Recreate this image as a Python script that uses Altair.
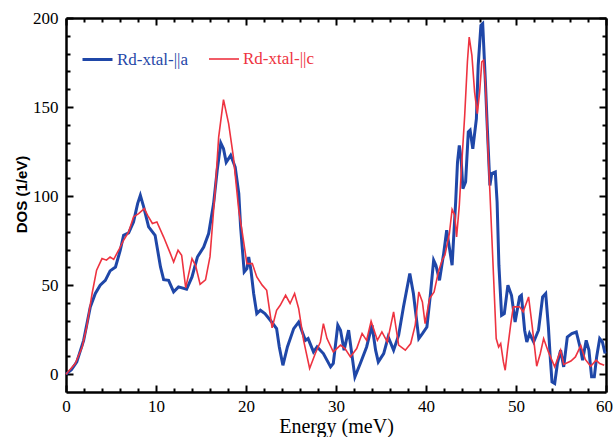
import altair as alt
import pandas as pd

# Phonon density of states, polarisation || a
energy_a = [0, 0.6, 1.2, 1.96, 2.7, 3.26, 3.8, 4.37, 4.9, 5.5, 6.03, 6.4, 6.96, 7.5, 7.96,
            8.26, 8.63, 9.18, 9.9, 10.5, 10.85, 11.4, 11.96, 12.5, 13.4, 14.0, 14.6, 15.3,
            15.85, 16.4, 16.8, 17.2, 17.5, 17.8, 18.3, 18.8, 19.2, 19.4, 19.8, 20.1, 20.3,
            20.55, 20.85, 21.2, 21.6, 22.1, 22.7, 23.4, 23.7, 24.1, 24.6, 25.3, 25.85, 26.6,
            26.9, 27.5, 27.9, 28.6, 29.4, 29.7, 30.2, 30.5, 30.9, 31.4, 31.8, 32.1, 32.7,
            33.4, 34.0, 34.4, 34.7, 35.3, 35.8, 36.4, 36.96, 37.5, 38.2, 38.6, 39.2, 39.6,
            40.1, 40.5, 40.85, 41.1, 41.5, 41.96, 42.3, 42.9, 43.3, 43.5, 43.7, 43.9, 44.1,
            44.4, 44.7, 44.9, 45.2, 45.6, 45.8, 46.1, 46.3, 46.6, 46.8, 47.1, 47.3, 47.7,
            47.9, 48.1, 48.4, 48.7, 49.1, 49.5, 49.9, 50.4, 50.6, 50.96, 51.2, 51.5, 51.96,
            52.5, 52.96, 53.3, 53.6, 53.8, 54.0, 54.3, 54.6, 54.96, 55.3, 55.7, 56.2, 56.7,
            57.2, 57.4, 57.8, 58.1, 58.4, 58.7, 58.96, 59.3, 59.6, 59.9]
dos_a = [0, 2.5, 6.9, 19, 37.8, 45.3, 50, 52.7, 58, 60.2, 69.6, 78, 79.3, 85.5, 95.8,
         100.4, 93.9, 82.7, 78, 60.2, 53.1, 52.7, 46.2, 49, 47.7, 54.6, 65.8, 71.4,
         79, 95.8, 114.5, 129.8, 126.6, 119, 122.9, 116.3, 101.4, 82.7, 57.4, 59.3, 65.8,
         58.4, 45.3, 34, 35.9, 34, 30.3, 25.6, 15.3, 5, 15.3, 25.6, 29.3, 19,
         20, 12.5, 15.3, 11.6, 4.1, 6, 27.5, 24.7, 13.5, 24.7, 9.7, -1.5, 6,
         15.3, 27.5, 13.5, 6.9, 11.6, 20.9, 13.5, 21.9, 37.8, 56.5, 45.3, 20, 22.8,
         26.5, 45.3, 64, 61.2, 52.7, 67.7, 80.8, 61.2, 97, 119, 128.5, 121, 104.2,
         107.9, 136, 137, 126.6, 143.5, 173.4, 195.8, 196.8, 164, 139.7, 106, 112.6, 113.5,
         96.7, 61.2, 33, 34, 50, 44.3, 29.3, 43.4, 44.3, 24.7, 18.1, 22.8, 18.1,
         24.7, 43.4, 45.3, 26.5, 9.7, -4.3, -5.2, 6, 13.5, 4.1, 20.9, 22.8, 23.7,
         13.5, 7.9, 19, 13.5, -1.5, -1.5, 9.7, 20, 18.1, 11.6]

# Phonon density of states, polarisation || c
energy_c = [0, 1.03, 1.8, 2.3, 2.9, 3.4, 4.0, 4.5, 4.9, 5.3, 5.85, 6.4, 6.96, 7.5, 8.07,
            8.7, 9.07, 9.6, 10.1, 10.85, 11.6, 11.96, 12.45, 12.85, 13.3, 14.0, 14.4, 14.9,
            15.5, 16.0, 16.6, 16.96, 17.5, 18.07, 18.6, 19.2, 19.6, 20.1, 20.7, 21.2, 21.8,
            22.3, 22.9, 23.4, 23.8, 24.4, 24.9, 25.4, 25.85, 26.4, 27.07, 27.7, 28.26, 28.6,
            29.0, 29.7, 30.5, 31.0, 31.6, 32.3, 32.9, 33.4, 33.9, 34.6, 35.1, 35.7, 36.4,
            36.96, 37.7, 38.3, 38.8, 39.2, 39.6, 39.9, 40.4, 40.9, 41.4, 41.8, 42.1, 42.6,
            42.9, 43.2, 43.4, 43.7, 43.96, 44.3, 44.6, 44.8, 45.1, 45.4, 45.7, 45.96, 46.2,
            46.4, 46.6, 46.8, 47.1, 47.5, 47.8, 48.07, 48.3, 48.6, 48.8, 49.07, 49.4, 49.7,
            50.1, 50.4, 50.8, 51.4, 51.8, 52.3, 52.7, 53.07, 53.6, 54.3, 54.96, 55.3, 56.1,
            56.6, 57.2, 57.7, 58.3, 58.9, 59.3, 59.8]
dos_c = [0, 6, 15.3, 26.5, 45.3, 58.4, 64.9, 64, 65.8, 64.5, 69.6, 75.2, 79.9, 88.3, 90.2,
         93, 89.2, 84.6, 85.5, 77, 67.7, 63, 69.6, 66.8, 48.5, 64.9, 61, 50.5,
         53, 66, 105, 133, 154.2, 140.7, 122, 92, 79, 62.1, 62.1, 54.6, 50,
         47.1, 26, 35.9, 38.7, 44.3, 39.7, 45.3, 36.9, 19, 3.2, 11.6, 18.1, 28.4,
         20, 12.5, 16.3, 14.4, 9.7, 14.4, 22.8, 19, 29.7, 19, 23.7, 18.1, 35,
         16.3, 13.5, 17.2, 27.5, 46.2, 40.6, 28.4, 42.5, 46.2, 58, 64, 66.8, 79,
         92.5, 89.2, 77, 94.8, 117.3, 145.3, 175.3, 189.3, 179, 158.4, 146.3, 158.4, 175.3,
         176.2, 164, 136, 102.3, 55.6, 20, 15.3, 17.2, 6.9, 2.2, 14.4, 27.5, 37.8,
         37.8, 37.8, 35, 43.4, 27, 4.5, 11.6, 20, 12.5, 4.1, 13.5, 5.5, 7.4,
         9.7, 16, 8.3, 4.5, 7.9, 6, 5]

label_a = "Rd-xtal-||a"
label_c = "Rd-xtal-||c"

x_label_values = [0, 10, 20, 30, 40, 50, 60]
x_tick_values = list(range(0, 61, 2))
y_label_values = [0, 50, 100, 150, 200]
y_tick_values = list(range(0, 201, 10))

BLUE = "#1f47a8"
RED = "#ee3340"
SERIF = "Liberation Serif"
W, H = 540, 374

df_a = pd.DataFrame({"energy": energy_a, "dos": dos_a, "series": label_a})
df_c = pd.DataFrame({"energy": energy_c, "dos": dos_c, "series": label_c})

x_scale = alt.Scale(domain=[0, 60], nice=False, zero=False)
y_scale = alt.Scale(domain=[-10, 200], nice=False, zero=False)

x_major = {"condition": {"test": "datum.value % 10 === 0", "value": 7}, "value": 4}
y_major = {"condition": {"test": "datum.value % 50 === 0", "value": 7}, "value": 4}
# keep the last energy label inside the canvas
x_label_shift = {"condition": {"test": "datum.value === 60", "value": -2}, "value": 0}


def tick_axis(orient, offset, values, size):
    # frame edge with inward-pointing major/minor ticks, no labels
    return alt.Axis(orient=orient, offset=offset, values=values, labels=False, title=None,
                    grid=False, ticks=True, tickSize=size, tickWidth=2, tickColor="black",
                    domain=True, domainColor="black", domainWidth=2.5)


x_label_axis = alt.Axis(orient="bottom", values=x_label_values, ticks=False, domain=False,
                        grid=False, labelFont=SERIF, labelFontSize=17,
                        labelColor="black", labelPadding=6, labelFlush=False,
                        labelBaseline="top", labelOffset=x_label_shift,
                        title="Energy (meV)", titleFont=SERIF, titleFontSize=20,
                        titleFontWeight="normal", titleColor="black", titleX=W / 2, titleY=40,
                        titleAlign="center", titleBaseline="alphabetic")
y_label_axis = alt.Axis(orient="left", values=y_label_values, ticks=False, domain=False,
                        grid=False, labelFont=SERIF, labelFontSize=17,
                        labelColor="black",
                        labelPadding=8, title="DOS (1/eV)", titleFont="Liberation Sans",
                        titleFontSize=15, titleFontWeight="bold", titleColor="black",
                        titleAngle=270, titleX=-40, titleY=176, titleAlign="center",
                        titleBaseline="alphabetic")


def series_legend(x, color, width):
    return alt.Legend(orient="none", legendX=x, legendY=25, title=None, padding=0,
                      symbolType="stroke", symbolSize=900, symbolStrokeWidth=width,
                      labelFont=SERIF, labelFontSize=17, labelColor=color, labelOffset=3,
                      labelLimit=0)


line_a = alt.Chart(df_a).mark_line(strokeWidth=3).encode(
    x=alt.X("energy:Q", scale=x_scale, axis=x_label_axis),
    y=alt.Y("dos:Q", scale=y_scale, axis=y_label_axis),
    color=alt.Color("series:N", scale=alt.Scale(domain=[label_a], range=[BLUE]),
                    legend=series_legend(15, BLUE, 3)),
)

line_c = alt.Chart(df_c).mark_line(strokeWidth=1.6).encode(
    x=alt.X("energy:Q", scale=x_scale, axis=tick_axis("top", -H, x_tick_values, x_major)),
    y=alt.Y("dos:Q", scale=y_scale, axis=tick_axis("right", -W, y_tick_values, y_major)),
    color=alt.Color("series:N", scale=alt.Scale(domain=[label_c], range=[RED]),
                    legend=series_legend(142, RED, 1.6)),
)

# carries the top and right frame edges
frame = alt.Chart(df_a).mark_line(strokeOpacity=0).encode(
    x=alt.X("energy:Q", scale=x_scale, axis=tick_axis("bottom", -H, x_tick_values, x_major)),
    y=alt.Y("dos:Q", scale=y_scale, axis=tick_axis("left", -W, y_tick_values, y_major)),
)

chart = (
    alt.layer(line_a, line_c, frame)
    .resolve_scale(color="independent")
    .resolve_axis(x="independent", y="independent")
    .properties(width=W, height=H, autosize=alt.AutoSizeParams(type="none"),
                padding={"left": 66, "top": 18, "right": 8, "bottom": 45},
                background="white")
    .configure_view(stroke=None)
)

chart.save("out.html", embed_options={"renderer": "svg", "actions": False})
